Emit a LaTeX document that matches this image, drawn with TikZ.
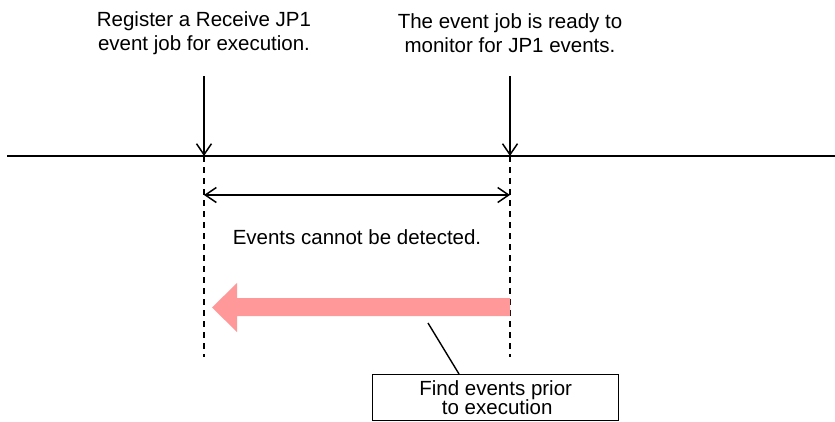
\documentclass[tikz,border=0pt]{standalone}
\usepackage{fontspec}
\setmainfont{Liberation Sans}
\usetikzlibrary{arrows.meta}
\definecolor{pinkarrow}{HTML}{FF9999}
\begin{document}
\begin{tikzpicture}[x=1pt,y=-1pt,
  txt/.style={align=center,inner sep=0pt,font=\fontsize{20.5}{24.5}\selectfont},
  ln/.style={line width=1.6pt},
  tip/.style={-{Straight Barb[length=11pt,width=15pt,line width=1.5pt]}},
  dashln/.style={line width=1.6pt,dash pattern=on 6pt off 5pt}]
\useasboundingbox (0,0) rectangle (835,421);
% top texts
\node[txt] (t1) at (204,33) {Register a Receive JP1\\event job for execution.};
\node[txt] (t2) at (510,33) {The event job is ready to\\monitor for JP1 events.};
% coordinates
\coordinate (a1) at (204,76);
\coordinate (a2) at (510,76);
\coordinate (p1) at (204,156);
\coordinate (p2) at (510,156);
\coordinate (d1) at (204,357);
\coordinate (d2) at (510,357);
\coordinate (tl) at (7,156);
\coordinate (tr) at (835,156);
\coordinate (b1) at (204,195);
\coordinate (b2) at (510,195);
% time line
\draw[ln] (tl) -- (tr);
% arrows down
\draw[ln,tip] (a1) -- (p1);
\draw[ln,tip] (a2) -- (p2);
% dashed
\draw[dashln] (p1) -- (d1);
\draw[dashln] (p2) -- (d2);
% double arrow
\draw[ln,{Straight Barb[length=11pt,width=15pt,line width=1.5pt]}-{Straight Barb[length=11pt,width=15pt,line width=1.5pt]}] (b1) -- (b2);
\node[txt] (ev) at (357,237) {Events cannot be detected.};
% pink arrow
\fill[pinkarrow] (510,298) -- (237,298) -- (237,283) -- (212,307.5) -- (237,332) -- (237,316) -- (510,316) -- cycle;
% box
\node[draw,line width=1.4pt,minimum width=246pt,minimum height=46pt,inner sep=0pt,align=center,
  font=\fontsize{20.5}{19.5}\selectfont,anchor=north west] (box) at (372,374) {Find events prior\\\hspace*{3pt}to execution};
\coordinate (lead) at (428,323);
\draw[line width=1.4pt] (lead) -- (box.north -| 459,0);
\end{tikzpicture}
\end{document}
